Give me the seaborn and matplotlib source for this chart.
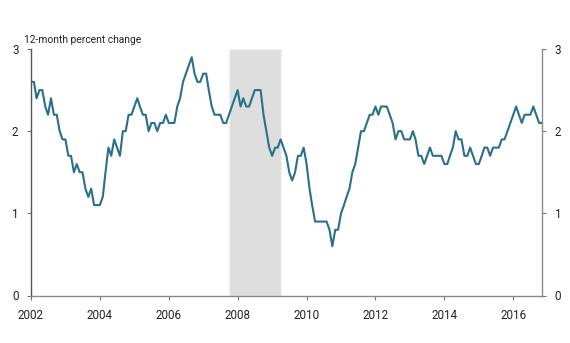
import numpy as np
import pandas as pd
import matplotlib
matplotlib.use("Agg")
import matplotlib.pyplot as plt
import seaborn as sns

# Core consumer prices, 12-month percent change, monthly Jan 2002 - Nov 2016
start_month = "2002-01-01"
pct_2002 = [2.6, 2.6, 2.4, 2.5, 2.5, 2.3, 2.2, 2.4, 2.2, 2.2, 2.0, 1.9]
pct_2003 = [1.9, 1.7, 1.7, 1.5, 1.6, 1.5, 1.5, 1.3, 1.2, 1.3, 1.1, 1.1]
pct_2004 = [1.1, 1.2, 1.5, 1.8, 1.7, 1.9, 1.8, 1.7, 2.0, 2.0, 2.2, 2.2]
pct_2005 = [2.3, 2.4, 2.3, 2.2, 2.2, 2.0, 2.1, 2.1, 2.0, 2.1, 2.1, 2.2]
pct_2006 = [2.1, 2.1, 2.1, 2.3, 2.4, 2.6, 2.7, 2.8, 2.9, 2.7, 2.6, 2.6]
pct_2007 = [2.7, 2.7, 2.5, 2.3, 2.2, 2.2, 2.2, 2.1, 2.1, 2.2, 2.3, 2.4]
pct_2008 = [2.5, 2.3, 2.4, 2.3, 2.3, 2.4, 2.5, 2.5, 2.5, 2.2, 2.0, 1.8]
pct_2009 = [1.7, 1.8, 1.8, 1.9, 1.8, 1.7, 1.5, 1.4, 1.5, 1.7, 1.7, 1.8]
pct_2010 = [1.6, 1.3, 1.1, 0.9, 0.9, 0.9, 0.9, 0.9, 0.8, 0.6, 0.8, 0.8]
pct_2011 = [1.0, 1.1, 1.2, 1.3, 1.5, 1.6, 1.8, 2.0, 2.0, 2.1, 2.2, 2.2]
pct_2012 = [2.3, 2.2, 2.3, 2.3, 2.3, 2.2, 2.1, 1.9, 2.0, 2.0, 1.9, 1.9]
pct_2013 = [1.9, 2.0, 1.9, 1.7, 1.7, 1.6, 1.7, 1.8, 1.7, 1.7, 1.7, 1.7]
pct_2014 = [1.6, 1.6, 1.7, 1.8, 2.0, 1.9, 1.9, 1.7, 1.7, 1.8, 1.7, 1.6]
pct_2015 = [1.6, 1.7, 1.8, 1.8, 1.7, 1.8, 1.8, 1.8, 1.9, 1.9, 2.0, 2.1]
pct_2016 = [2.2, 2.3, 2.2, 2.1, 2.2, 2.2, 2.2, 2.3, 2.2, 2.1, 2.1]

# Recession shading (quarterly dating)
recession_start = "2007-10-01"
recession_end = "2009-04-01"

year_ticks = [2002, 2004, 2006, 2008, 2010, 2012, 2014, 2016]
y_ticks = [0, 1, 2, 3]
y_label = "12-month percent change"

values = (pct_2002 + pct_2003 + pct_2004 + pct_2005 + pct_2006 + pct_2007
          + pct_2008 + pct_2009 + pct_2010 + pct_2011 + pct_2012 + pct_2013
          + pct_2014 + pct_2015 + pct_2016)
dates = pd.date_range(start_month, periods=len(values), freq="MS")
df = pd.DataFrame({"date": dates, "pct": values})

sns.set_theme(style="white")
plt.rcParams["font.family"] = ["Roboto", "DejaVu Sans"]

fig = plt.figure(figsize=(5.70, 3.43), dpi=100)
ax = fig.add_axes([31 / 570, 1 - 295.5 / 343, (542 - 31) / 570, (295.5 - 49) / 343])

ax.axvspan(pd.Timestamp(recession_start), pd.Timestamp(recession_end),
           facecolor="#dedede", edgecolor="#f2f2f2", linewidth=1.0, zorder=0)

sns.lineplot(data=df, x="date", y="pct", ax=ax, color="#2a6f8c",
             linewidth=1.5, zorder=3)

ax.set_xlim(dates[0], dates[-1])
ax.set_ylim(0, 3)
ax.set_xticks([pd.Timestamp(f"{y}-01-01") for y in year_ticks])
ax.set_xticklabels([str(y) for y in year_ticks])
ax.set_yticks(y_ticks)
ax.set_yticklabels([str(v) for v in y_ticks])
ax.set_xlabel("")
ax.set_ylabel("")

for side in ["left", "right", "bottom"]:
    ax.spines[side].set_visible(True)
    ax.spines[side].set_color("#8a8a8a")
    ax.spines[side].set_linewidth(1.0)
ax.spines["left"].set_color("#555555")
ax.spines["top"].set_visible(False)

ax.tick_params(axis="both", which="both", direction="out", length=3,
               width=0.8, color="#777777", labelsize=8.4, labelcolor="#222222")
ax.tick_params(axis="y", left=True, right=True, labelleft=True,
               labelright=True, pad=6)
ax.tick_params(axis="x", bottom=True, pad=7)

fig.text(24 / 570, 1 - 43 / 343, y_label, fontsize=7.4, color="#222222",
         ha="left", va="baseline")

fig.savefig("out.png", dpi=100)
